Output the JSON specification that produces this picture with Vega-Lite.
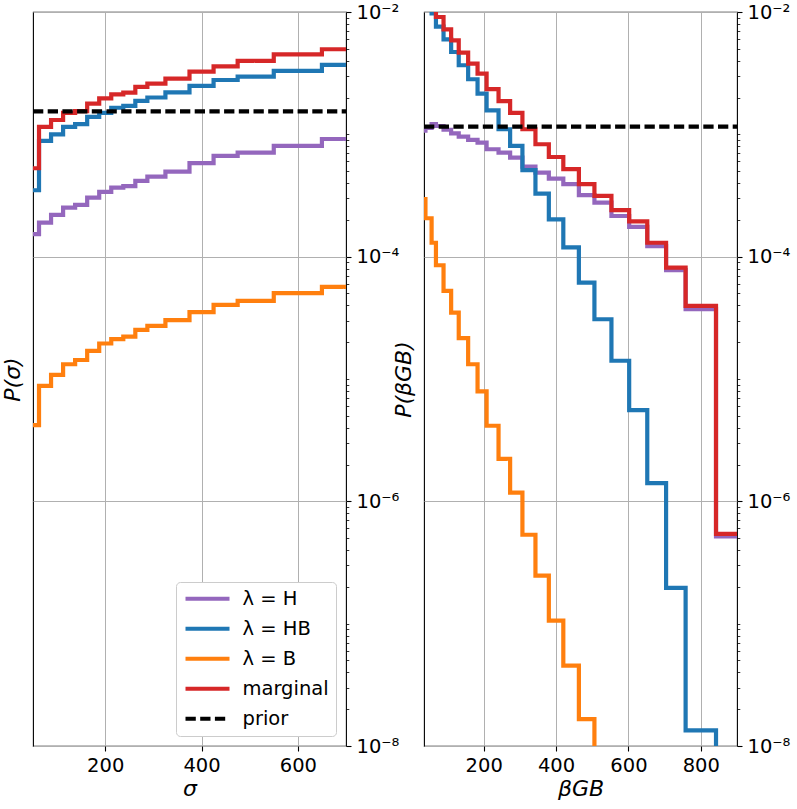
{
  "$schema": "https://vega.github.io/schema/vega-lite/v6.json",
  "padding": {"left": 0, "top": 1, "right": 0, "bottom": 0},
  "config": {
    "font": "DejaVu Sans",
    "view": {"stroke": "black", "strokeWidth": 1.1},
    "axis": {
      "labelFont": "DejaVu Sans", "titleFont": "DejaVu Sans",
      "labelFontSize": 19.5, "titleFontSize": 22, "titleFontWeight": "normal",
      "labelColor": "black", "titleColor": "black", "tickColor": "black",
      "tickSize": 5, "tickWidth": 1.1, "labelPadding": 5, "domain": false,
      "gridColor": "#b0b0b0", "gridWidth": 1
    },
    "axisX": {"titlePadding": 4},
    "legend": {
      "orient": "bottom-right", "offset": 10,
      "labelFont": "DejaVu Sans", "labelFontSize": 19.5, "labelColor": "black",
      "symbolType": "stroke", "symbolSize": 1936, "symbolStrokeWidth": 4.2,
      "clipHeight": 19.5, "labelOffset": 10.5, "rowPadding": 9, "padding": 7,
      "fillColor": "white", "strokeColor": "#cccccc", "cornerRadius": 4
    },
    "concat": {"spacing": -9}
  },
  "datasets": {
    "sig": [
      {"series": "λ = H", "x": 50, "p": 0.000153}, {"series": "λ = H", "x": 75, "p": 0.000190}, {"series": "λ = H", "x": 100, "p": 0.000220},
      {"series": "λ = H", "x": 125, "p": 0.000252}, {"series": "λ = H", "x": 150, "p": 0.000265}, {"series": "λ = H", "x": 175, "p": 0.000304},
      {"series": "λ = H", "x": 200, "p": 0.000338}, {"series": "λ = H", "x": 225, "p": 0.000367}, {"series": "λ = H", "x": 250, "p": 0.000377},
      {"series": "λ = H", "x": 275, "p": 0.000416}, {"series": "λ = H", "x": 300, "p": 0.000451}, {"series": "λ = H", "x": 350, "p": 0.000496},
      {"series": "λ = H", "x": 400, "p": 0.000581}, {"series": "λ = H", "x": 450, "p": 0.000667}, {"series": "λ = H", "x": 500, "p": 0.000710},
      {"series": "λ = H", "x": 600, "p": 0.000804}, {"series": "λ = H", "x": 700, "p": 0.000916},
      {"series": "λ = HB", "x": 50, "p": 0.000349}, {"series": "λ = HB", "x": 75, "p": 0.000883}, {"series": "λ = HB", "x": 100, "p": 0.00100},
      {"series": "λ = HB", "x": 125, "p": 0.00115}, {"series": "λ = HB", "x": 150, "p": 0.00121}, {"series": "λ = HB", "x": 175, "p": 0.00139},
      {"series": "λ = HB", "x": 200, "p": 0.00150}, {"series": "λ = HB", "x": 225, "p": 0.00165}, {"series": "λ = HB", "x": 250, "p": 0.00171},
      {"series": "λ = HB", "x": 275, "p": 0.00188}, {"series": "λ = HB", "x": 300, "p": 0.00200}, {"series": "λ = HB", "x": 350, "p": 0.00220},
      {"series": "λ = HB", "x": 400, "p": 0.00249}, {"series": "λ = HB", "x": 450, "p": 0.00278}, {"series": "λ = HB", "x": 500, "p": 0.00296},
      {"series": "λ = HB", "x": 600, "p": 0.00330}, {"series": "λ = HB", "x": 700, "p": 0.00369},
      {"series": "λ = B", "x": 50, "p": 0.0000042}, {"series": "λ = B", "x": 75, "p": 0.0000088}, {"series": "λ = B", "x": 100, "p": 0.0000108},
      {"series": "λ = B", "x": 125, "p": 0.0000132}, {"series": "λ = B", "x": 150, "p": 0.0000143}, {"series": "λ = B", "x": 175, "p": 0.0000170},
      {"series": "λ = B", "x": 200, "p": 0.0000195}, {"series": "λ = B", "x": 225, "p": 0.0000212}, {"series": "λ = B", "x": 250, "p": 0.0000222},
      {"series": "λ = B", "x": 275, "p": 0.0000252}, {"series": "λ = B", "x": 300, "p": 0.0000272}, {"series": "λ = B", "x": 350, "p": 0.0000303},
      {"series": "λ = B", "x": 400, "p": 0.0000352}, {"series": "λ = B", "x": 450, "p": 0.0000404}, {"series": "λ = B", "x": 500, "p": 0.0000435},
      {"series": "λ = B", "x": 600, "p": 0.0000503}, {"series": "λ = B", "x": 700, "p": 0.0000566},
      {"series": "marginal", "x": 50, "p": 0.000528}, {"series": "marginal", "x": 75, "p": 0.00115}, {"series": "marginal", "x": 100, "p": 0.00131},
      {"series": "marginal", "x": 125, "p": 0.00150}, {"series": "marginal", "x": 150, "p": 0.00155}, {"series": "marginal", "x": 175, "p": 0.00178},
      {"series": "marginal", "x": 200, "p": 0.00197}, {"series": "marginal", "x": 225, "p": 0.00212}, {"series": "marginal", "x": 250, "p": 0.00219},
      {"series": "marginal", "x": 275, "p": 0.00244}, {"series": "marginal", "x": 300, "p": 0.00260}, {"series": "marginal", "x": 350, "p": 0.00285},
      {"series": "marginal", "x": 400, "p": 0.00325}, {"series": "marginal", "x": 450, "p": 0.00360}, {"series": "marginal", "x": 500, "p": 0.00398},
      {"series": "marginal", "x": 600, "p": 0.00451}, {"series": "marginal", "x": 700, "p": 0.00496}
    ],
    "sigp": [
      {"series": "prior", "x": 50, "p": 0.0015385}, {"series": "prior", "x": 700, "p": 0.0015385}
    ],
    "beta": [
      {"series": "λ = H", "x": 35, "p": 0.00107}, {"series": "λ = H", "x": 39, "p": 0.00113}, {"series": "λ = H", "x": 56, "p": 0.00121},
      {"series": "λ = H", "x": 68, "p": 0.00117}, {"series": "λ = H", "x": 89, "p": 0.00109}, {"series": "λ = H", "x": 110, "p": 0.00102},
      {"series": "λ = H", "x": 131, "p": 0.000958}, {"series": "λ = H", "x": 157, "p": 0.000900}, {"series": "λ = H", "x": 183, "p": 0.000855},
      {"series": "λ = H", "x": 208, "p": 0.000755}, {"series": "λ = H", "x": 241, "p": 0.000708}, {"series": "λ = H", "x": 273, "p": 0.000645},
      {"series": "λ = H", "x": 307, "p": 0.000545}, {"series": "λ = H", "x": 343, "p": 0.000486}, {"series": "λ = H", "x": 380, "p": 0.000435},
      {"series": "λ = H", "x": 420, "p": 0.000391}, {"series": "λ = H", "x": 463, "p": 0.000318}, {"series": "λ = H", "x": 506, "p": 0.000277},
      {"series": "λ = H", "x": 553, "p": 0.000215}, {"series": "λ = H", "x": 602, "p": 0.000175}, {"series": "λ = H", "x": 652, "p": 0.000122},
      {"series": "λ = H", "x": 704, "p": 0.0000776}, {"series": "λ = H", "x": 758, "p": 0.0000372}, {"series": "λ = H", "x": 842, "p": 0.000000517},
      {"series": "λ = H", "x": 900, "p": 0.000000517},
      {"series": "λ = HB", "x": 35, "p": 0.018}, {"series": "λ = HB", "x": 39, "p": 0.013}, {"series": "λ = HB", "x": 56, "p": 0.00976},
      {"series": "λ = HB", "x": 68, "p": 0.00758}, {"series": "λ = HB", "x": 89, "p": 0.00598}, {"series": "λ = HB", "x": 110, "p": 0.00471},
      {"series": "λ = HB", "x": 131, "p": 0.00367}, {"series": "λ = HB", "x": 157, "p": 0.00282}, {"series": "λ = HB", "x": 183, "p": 0.00215},
      {"series": "λ = HB", "x": 208, "p": 0.00157}, {"series": "λ = HB", "x": 241, "p": 0.00110}, {"series": "λ = HB", "x": 273, "p": 0.000804},
      {"series": "λ = HB", "x": 307, "p": 0.000509}, {"series": "λ = HB", "x": 343, "p": 0.000328}, {"series": "λ = HB", "x": 380, "p": 0.000202},
      {"series": "λ = HB", "x": 420, "p": 0.000119}, {"series": "λ = HB", "x": 463, "p": 0.0000614}, {"series": "λ = HB", "x": 506, "p": 0.0000308},
      {"series": "λ = HB", "x": 553, "p": 0.0000141}, {"series": "λ = HB", "x": 602, "p": 0.00000557}, {"series": "λ = HB", "x": 652, "p": 0.00000141},
      {"series": "λ = HB", "x": 704, "p": 0.000000196}, {"series": "λ = HB", "x": 758, "p": 0.0000000134}, {"series": "λ = HB", "x": 842, "p": 1e-10},
      {"series": "λ = B", "x": 35, "p": 0.000295}, {"series": "λ = B", "x": 39, "p": 0.000206}, {"series": "λ = B", "x": 56, "p": 0.000130},
      {"series": "λ = B", "x": 68, "p": 0.0000851}, {"series": "λ = B", "x": 89, "p": 0.0000526}, {"series": "λ = B", "x": 110, "p": 0.0000349},
      {"series": "λ = B", "x": 131, "p": 0.0000216}, {"series": "λ = B", "x": 157, "p": 0.0000132}, {"series": "λ = B", "x": 183, "p": 0.00000791},
      {"series": "λ = B", "x": 208, "p": 0.00000415}, {"series": "λ = B", "x": 241, "p": 0.00000222}, {"series": "λ = B", "x": 273, "p": 0.00000118},
      {"series": "λ = B", "x": 307, "p": 0.000000533}, {"series": "λ = B", "x": 343, "p": 0.000000247}, {"series": "λ = B", "x": 380, "p": 0.000000106},
      {"series": "λ = B", "x": 420, "p": 0.0000000454}, {"series": "λ = B", "x": 463, "p": 0.0000000166}, {"series": "λ = B", "x": 506, "p": 1e-10},
      {"series": "marginal", "x": 35, "p": 0.022}, {"series": "marginal", "x": 39, "p": 0.016}, {"series": "marginal", "x": 56, "p": 0.0115},
      {"series": "marginal", "x": 68, "p": 0.0091}, {"series": "marginal", "x": 89, "p": 0.00722}, {"series": "marginal", "x": 110, "p": 0.00587},
      {"series": "marginal", "x": 131, "p": 0.00466}, {"series": "marginal", "x": 157, "p": 0.00379}, {"series": "marginal", "x": 183, "p": 0.00314},
      {"series": "marginal", "x": 208, "p": 0.00234}, {"series": "marginal", "x": 241, "p": 0.00187}, {"series": "marginal", "x": 273, "p": 0.00150},
      {"series": "marginal", "x": 307, "p": 0.00110}, {"series": "marginal", "x": 343, "p": 0.000830}, {"series": "marginal", "x": 380, "p": 0.000653},
      {"series": "marginal", "x": 420, "p": 0.000519}, {"series": "marginal", "x": 463, "p": 0.000391}, {"series": "marginal", "x": 506, "p": 0.000314},
      {"series": "marginal", "x": 553, "p": 0.000240}, {"series": "marginal", "x": 602, "p": 0.000194}, {"series": "marginal", "x": 652, "p": 0.000130},
      {"series": "marginal", "x": 704, "p": 0.0000815}, {"series": "marginal", "x": 758, "p": 0.0000396}, {"series": "marginal", "x": 842, "p": 0.000000541},
      {"series": "marginal", "x": 900, "p": 0.000000541}
    ],
    "betap": [
      {"series": "prior", "x": 35, "p": 0.0011561}, {"series": "prior", "x": 900, "p": 0.0011561}
    ]
  },
  "hconcat": [
    {
      "width": 313,
      "height": 734,
      "layer": [
        {
          "data": {"name": "sig"},
          "mark": {"type": "line", "interpolate": "step", "clip": true},
          "encoding": {
            "x": {"field": "x", "type": "quantitative", "scale": {"domain": [50, 700], "nice": false, "zero": false},
                  "axis": {"values": [200, 400, 600], "title": "σ", "titleFontStyle": "italic", "grid": true}},
            "y": {"field": "p", "type": "quantitative", "scale": {"type": "log", "domain": [1e-8, 1e-2], "nice": false},
                  "axis": {"orient": "left", "title": "P(σ)", "titleFontStyle": "italic", "labels": false, "ticks": false, "grid": false, "titlePadding": 9}},
            "color": {"field": "series", "type": "nominal",
                      "scale": {"domain": ["λ = H", "λ = HB", "λ = B", "marginal", "prior"], "range": ["#9467bd", "#1f77b4", "#ff7f0e", "#d62728", "black"]},
                      "legend": {"title": null}},
            "strokeDash": {"field": "series", "type": "nominal",
                           "scale": {"domain": ["λ = H", "λ = HB", "λ = B", "marginal", "prior"], "range": [[1, 0], [1, 0], [1, 0], [1, 0], [10.3, 4.4]]},
                           "legend": {"title": null}},
            "strokeWidth": {"field": "series", "type": "nominal",
                            "scale": {"domain": ["λ = H", "λ = HB", "λ = B", "marginal", "prior"], "range": [4.2, 4.2, 4.2, 4.2, 2.8]},
                            "legend": null}
          }
        },
        {
          "data": {"name": "sigp"},
          "mark": {"type": "line", "clip": true},
          "encoding": {
            "x": {"field": "x", "type": "quantitative", "scale": {"domain": [50, 700], "nice": false, "zero": false}},
            "y": {"field": "p", "type": "quantitative", "scale": {"type": "log", "domain": [1e-8, 1e-2], "nice": false},
                  "axis": {
                    "orient": "right", "title": null, "grid": true,
                    "values": [1e-8, 2e-8, 3e-8, 4e-8, 5e-8, 6e-8, 7e-8, 8e-8, 9e-8, 1e-7, 2e-7, 3e-7, 4e-7, 5e-7, 6e-7, 7e-7, 8e-7, 9e-7,
                               1e-6, 2e-6, 3e-6, 4e-6, 5e-6, 6e-6, 7e-6, 8e-6, 9e-6, 1e-5, 2e-5, 3e-5, 4e-5, 5e-5, 6e-5, 7e-5, 8e-5, 9e-5,
                               1e-4, 2e-4, 3e-4, 4e-4, 5e-4, 6e-4, 7e-4, 8e-4, 9e-4, 1e-3, 2e-3, 3e-3, 4e-3, 5e-3, 6e-3, 7e-3, 8e-3, 9e-3, 1e-2],
                    "labelExpr": "datum.value == 1e-8 ? '10⁻⁸' : datum.value == 1e-6 ? '10⁻⁶' : datum.value == 1e-4 ? '10⁻⁴' : datum.value == 1e-2 ? '10⁻²' : ''",
                    "labelOverlap": false, "labelBound": false, "labelFlush": false,
                    "gridOpacity": {"condition": {"test": "indexof([1e-8, 1e-6, 1e-4, 1e-2], datum.value) >= 0", "value": 1}, "value": 0},
                    "tickSize": {"condition": {"test": "indexof([1e-8, 1e-6, 1e-4, 1e-2], datum.value) >= 0", "value": 5}, "value": 2.8},
                    "tickWidth": {"condition": {"test": "indexof([1e-8, 1e-6, 1e-4, 1e-2], datum.value) >= 0", "value": 1.1}, "value": 0.8}
                  }},
            "color": {"field": "series", "type": "nominal",
                      "scale": {"domain": ["λ = H", "λ = HB", "λ = B", "marginal", "prior"], "range": ["#9467bd", "#1f77b4", "#ff7f0e", "#d62728", "black"]},
                      "legend": {"title": null}},
            "strokeDash": {"field": "series", "type": "nominal",
                           "scale": {"domain": ["λ = H", "λ = HB", "λ = B", "marginal", "prior"], "range": [[1, 0], [1, 0], [1, 0], [1, 0], [10.3, 4.4]]},
                           "legend": {"title": null}},
            "strokeWidth": {"field": "series", "type": "nominal",
                            "scale": {"domain": ["λ = H", "λ = HB", "λ = B", "marginal", "prior"], "range": [4.2, 4.2, 4.2, 4.2, 2.8]},
                            "legend": null}
          }
        }
      ],
      "resolve": {"axis": {"y": "independent"}}
    },
    {
      "width": 313,
      "height": 734,
      "layer": [
        {
          "data": {"name": "beta"},
          "mark": {"type": "line", "interpolate": "step-after", "clip": true},
          "encoding": {
            "x": {"field": "x", "type": "quantitative", "scale": {"domain": [35, 900], "nice": false, "zero": false},
                  "axis": {"values": [200, 400, 600, 800], "title": "βGB", "titleFontStyle": "italic", "grid": true}},
            "y": {"field": "p", "type": "quantitative", "scale": {"type": "log", "domain": [1e-8, 1e-2], "nice": false},
                  "axis": {"orient": "left", "title": "P(βGB)", "titleFontStyle": "italic", "labels": false, "ticks": false, "grid": false, "titlePadding": 9}},
            "color": {"field": "series", "type": "nominal",
                      "scale": {"domain": ["λ = H", "λ = HB", "λ = B", "marginal", "prior"], "range": ["#9467bd", "#1f77b4", "#ff7f0e", "#d62728", "black"]},
                      "legend": null},
            "strokeDash": {"field": "series", "type": "nominal",
                           "scale": {"domain": ["λ = H", "λ = HB", "λ = B", "marginal", "prior"], "range": [[1, 0], [1, 0], [1, 0], [1, 0], [10.3, 4.4]]},
                           "legend": null},
            "strokeWidth": {"field": "series", "type": "nominal",
                            "scale": {"domain": ["λ = H", "λ = HB", "λ = B", "marginal", "prior"], "range": [4.2, 4.2, 4.2, 4.2, 2.8]},
                            "legend": null}
          }
        },
        {
          "data": {"name": "betap"},
          "mark": {"type": "line", "clip": true},
          "encoding": {
            "x": {"field": "x", "type": "quantitative", "scale": {"domain": [35, 900], "nice": false, "zero": false}},
            "y": {"field": "p", "type": "quantitative", "scale": {"type": "log", "domain": [1e-8, 1e-2], "nice": false},
                  "axis": {
                    "orient": "right", "title": null, "grid": true,
                    "values": [1e-8, 2e-8, 3e-8, 4e-8, 5e-8, 6e-8, 7e-8, 8e-8, 9e-8, 1e-7, 2e-7, 3e-7, 4e-7, 5e-7, 6e-7, 7e-7, 8e-7, 9e-7,
                               1e-6, 2e-6, 3e-6, 4e-6, 5e-6, 6e-6, 7e-6, 8e-6, 9e-6, 1e-5, 2e-5, 3e-5, 4e-5, 5e-5, 6e-5, 7e-5, 8e-5, 9e-5,
                               1e-4, 2e-4, 3e-4, 4e-4, 5e-4, 6e-4, 7e-4, 8e-4, 9e-4, 1e-3, 2e-3, 3e-3, 4e-3, 5e-3, 6e-3, 7e-3, 8e-3, 9e-3, 1e-2],
                    "labelExpr": "datum.value == 1e-8 ? '10⁻⁸' : datum.value == 1e-6 ? '10⁻⁶' : datum.value == 1e-4 ? '10⁻⁴' : datum.value == 1e-2 ? '10⁻²' : ''",
                    "labelOverlap": false, "labelBound": false, "labelFlush": false,
                    "gridOpacity": {"condition": {"test": "indexof([1e-8, 1e-6, 1e-4, 1e-2], datum.value) >= 0", "value": 1}, "value": 0},
                    "tickSize": {"condition": {"test": "indexof([1e-8, 1e-6, 1e-4, 1e-2], datum.value) >= 0", "value": 5}, "value": 2.8},
                    "tickWidth": {"condition": {"test": "indexof([1e-8, 1e-6, 1e-4, 1e-2], datum.value) >= 0", "value": 1.1}, "value": 0.8}
                  }},
            "color": {"field": "series", "type": "nominal",
                      "scale": {"domain": ["λ = H", "λ = HB", "λ = B", "marginal", "prior"], "range": ["#9467bd", "#1f77b4", "#ff7f0e", "#d62728", "black"]},
                      "legend": null},
            "strokeDash": {"field": "series", "type": "nominal",
                           "scale": {"domain": ["λ = H", "λ = HB", "λ = B", "marginal", "prior"], "range": [[1, 0], [1, 0], [1, 0], [1, 0], [10.3, 4.4]]},
                           "legend": null},
            "strokeWidth": {"field": "series", "type": "nominal",
                            "scale": {"domain": ["λ = H", "λ = HB", "λ = B", "marginal", "prior"], "range": [4.2, 4.2, 4.2, 4.2, 2.8]},
                            "legend": null}
          }
        }
      ],
      "resolve": {"axis": {"y": "independent"}}
    }
  ],
  "resolve": {"scale": {"color": "independent", "strokeDash": "independent", "strokeWidth": "independent"}}
}
